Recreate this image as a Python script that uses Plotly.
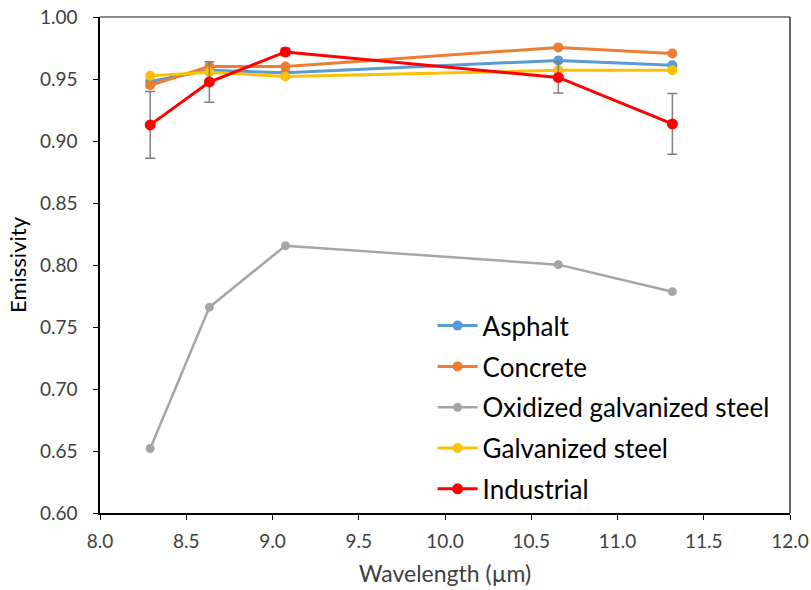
import plotly.graph_objects as go

wavelength = [8.291, 8.634, 9.075, 10.657, 11.318]
asphalt = [0.948, 0.957, 0.955, 0.965, 0.961]
concrete = [0.945, 0.960, 0.960, 0.9755, 0.9705]
oxidized = [0.652, 0.766, 0.8156, 0.8003, 0.7785]
galvanized = [0.9527, 0.9555, 0.952, 0.957, 0.957]
industrial = [0.913, 0.9476, 0.9718, 0.9513, 0.9138]
industrial_err = [0.027, 0.0163, 0.003, 0.0126, 0.0245]

series = [
    ("Asphalt", asphalt, "#5B9BD5", 3, 10, None),
    ("Concrete", concrete, "#ED7D31", 3, 10, None),
    ("Oxidized galvanized steel", oxidized, "#A5A5A5", 2.5, 9, None),
    ("Galvanized steel", galvanized, "#FFC000", 3, 10, None),
    ("Industrial", industrial, "#FF0000", 3, 11, industrial_err),
]

FONT = "Lato"
fig = go.Figure()
for i, (name, vals, col, lw, ms, err) in enumerate(series):
    kw = {}
    if err is not None:
        kw["error_y"] = dict(type="data", array=err, visible=True, color="#7F7F7F",
                             thickness=1.5, width=5)
    fig.add_trace(go.Scatter(
        x=wavelength, y=vals, name=name, mode="lines+markers",
        line=dict(color=col, width=lw),
        marker=dict(color=col, size=ms),
        legendgroup=f"g{i}",
        **kw))

fig.update_layout(
    width=811, height=590,
    margin=dict(l=100, r=21, t=17, b=77, autoexpand=False),
    plot_bgcolor="white", paper_bgcolor="white",
    font=dict(family=FONT, color="#404040"),
    showlegend=True,
    legend=dict(x=0.482, y=0.425, xanchor="left", yanchor="top",
                font=dict(family=FONT, size=26, color="#000000"),
                bgcolor="rgba(0,0,0,0)", tracegroupgap=4,
                itemwidth=40),
    xaxis=dict(range=[8.0, 12.0], dtick=0.5, tick0=8.0, tickformat=".1f",
               showgrid=False, zeroline=False, automargin=False,
               showline=True, linecolor="#000000", linewidth=1.5,
               ticks="outside", ticklen=5, tickcolor="#000000",
               ticklabelstandoff=5,
               tickfont=dict(size=19, color="#404040"),
               title=dict(text="Wavelength (µm)", font=dict(size=23, color="#404040"), standoff=15)),
    yaxis=dict(range=[0.60, 1.00], dtick=0.05, tick0=0.60, tickformat=".2f",
               showgrid=False, zeroline=False, automargin=False,
               showline=True, linecolor="#000000", linewidth=1.5,
               ticks="outside", ticklen=5, tickcolor="#000000",
               ticklabelstandoff=12,
               tickfont=dict(size=19, color="#404040"),
               title=dict(text="Emissivity", font=dict(size=22, color="#000000"), standoff=7)),
)
fig.add_shape(type="line", xref="paper", yref="paper", x0=0, x1=1, y0=1, y1=1,
              line=dict(color="#666666", width=1.5))
fig.add_shape(type="line", xref="paper", yref="paper", x0=1, x1=1, y0=0, y1=1,
              line=dict(color="#333333", width=1.5))

fig.write_html("out.html")
